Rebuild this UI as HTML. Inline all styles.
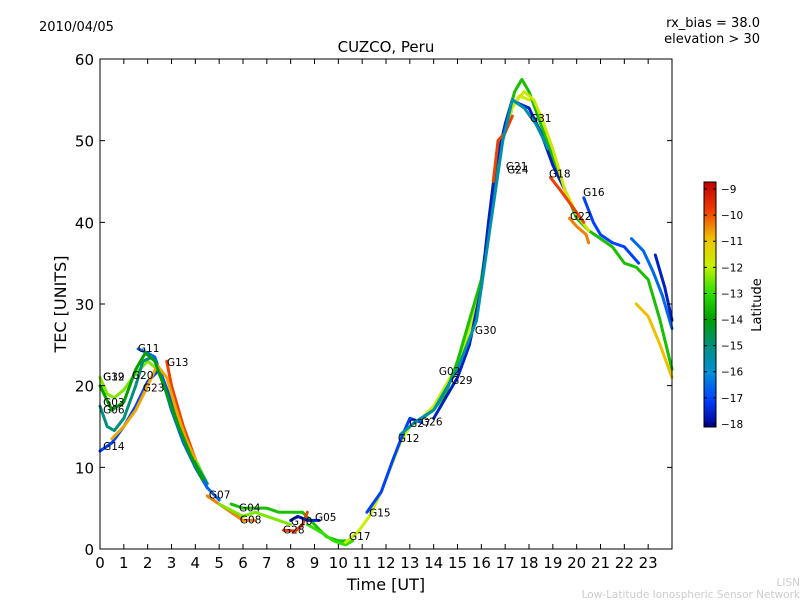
<!DOCTYPE html>
<html><head><meta charset="utf-8"><style>
body{margin:0;background:#fff;width:800px;height:600px;overflow:hidden;font-family:"Liberation Sans","DejaVu Sans",sans-serif;}
svg{display:block}
</style></head><body>
<svg id="chart" width="800" height="600" xmlns="http://www.w3.org/2000/svg" font-family="DejaVu Sans, Liberation Sans, sans-serif">
<defs>
<linearGradient id="cbg" x1="0" y1="1" x2="0" y2="0">
<stop offset="0" stop-color="#00008b"/><stop offset="0.11" stop-color="#0040ff"/>
<stop offset="0.22" stop-color="#0090d8"/><stop offset="0.33" stop-color="#009080"/>
<stop offset="0.44" stop-color="#00a000"/><stop offset="0.55" stop-color="#30e000"/>
<stop offset="0.66" stop-color="#c8f000"/><stop offset="0.77" stop-color="#f0c000"/>
<stop offset="0.88" stop-color="#f04000"/><stop offset="1" stop-color="#c00000"/>
</linearGradient>
</defs>
<text x="39" y="31" font-size="13">2010/04/05</text>
<text x="760" y="27" font-size="13" text-anchor="end">rx_bias = 38.0</text>
<text x="760" y="43" font-size="13" text-anchor="end">elevation &gt; 30</text>
<text x="386" y="52" font-size="15" text-anchor="middle">CUZCO, Peru</text>
<g id="marks"></g>
<rect x="100" y="59" width="572" height="490" fill="none" stroke="#000" stroke-width="1"/>
<g id="axes"></g>
<text transform="translate(66,304) rotate(-90)" font-size="16" text-anchor="middle">TEC [UNITS]</text>
<text x="386" y="590" font-size="16" text-anchor="middle">Time [UT]</text>
<rect x="704" y="182" width="12" height="245" fill="url(#cbg)" stroke="#000" stroke-width="1"/>
<g id="cbticks"></g>
<text transform="translate(761,305) rotate(-90)" font-size="13" text-anchor="middle">Latitude</text>
<text x="800" y="586" font-size="10.5" fill="#ccc" text-anchor="end">LISN</text>
<text x="800" y="598" font-size="10.5" fill="#ccc" text-anchor="end">Low-Latitude Ionospheric Sensor Network</text>
</svg>
<script>
const xTicks=[0,1,2,3,4,5,6,7,8,9,10,11,12,13,14,15,16,17,18,19,20,21,22,23];
const yTicks=[0,10,20,30,40,50,60];
const cbTicks=[-9,-10,-11,-12,-13,-14,-15,-16,-17,-18];
const trackNames=["G32","G06","G14","G11","G13","G07","G04","G28","G10","G05","G17","G12","G26","G30","G24","G31","G18","G16","G22","G25","G09","G01","G23","G20","G08","G02"];
const trackLats=[-12.5,-15,-17,-16.5,-10,-10.5,-13.5,-10,-17.5,-13,-12,-17,-13.5,-17.5,-10,-11.8,-10,-17,-10.5,-16.5,-17.5,-11,-10.8,-14,-12.5,-15.5];
const trackPoints=[
[[0,21],[0.3,19],[0.6,18.5],[1,19.5],[1.5,21.5],[2,23],[2.4,22],[3,18],[3.5,14],[4,11],[4.5,8]],
[[0,17.5],[0.3,15],[0.6,14.5],[1,16],[1.5,20],[1.8,23],[2.2,23.5],[2.5,22],[3,17],[3.5,13.5],[4,10.5],[4.5,8]],
[[0,12],[0.5,13],[1,15],[1.5,17.5],[2,20.5],[2.5,22],[3,18],[3.5,14],[4,10],[4.5,7.5]],
[[1.6,24.5],[2,24],[2.3,23.5],[2.6,21],[3,17],[3.5,13],[4,10],[4.5,7.5],[5,6]],
[[2.8,23],[3,20],[3.5,15],[4,11]],
[[4.5,6.5],[5,5.5],[5.5,4.5],[6,3.5],[6.5,3.5]],
[[5.5,5.5],[6,5],[7,5],[7.5,4.5],[8,4.5],[8.5,4.5],[9,3],[9.5,1.5],[10,1],[10.5,1]],
[[7.7,2.3],[8.2,2.2],[8.5,3],[8.7,4.5]],
[[8,3.5],[8.3,4],[8.7,3.5],[9.2,3.5]],
[[8.7,3],[9.3,2],[9.8,1],[10.3,0.5],[10.6,1]],
[[10.3,0.8],[10.8,2],[11.3,4],[11.8,7],[12.2,10],[12.6,13],[13,15],[13.5,16],[14,17.5],[14.5,20],[15,22.5],[15.5,27],[16,32],[16.5,45],[16.9,50],[17.3,54],[17.6,55.5],[18,55]],
[[11.2,4.5],[11.8,7],[12.3,11],[12.7,14],[13,16],[13.5,15.5]],
[[13.5,16],[14,17],[14.5,19],[15,23],[15.5,28],[16,33],[16.5,43],[17,52],[17.4,56],[17.7,57.5],[18,56],[18.5,52],[19,48],[19.5,44],[20,40.5],[20.5,39],[21,38],[21.5,37],[22,35],[22.5,34.5],[23,33],[23.5,28],[24,22]],
[[14,16],[14.5,18.5],[15,21],[15.5,25],[16,32],[16.3,40],[16.6,47],[17,52],[17.3,55],[17.6,54.5],[18,54],[18.5,51],[19,47],[19.5,44]],
[[16.5,45],[16.7,50],[17,51],[17.3,53]],
[[17.5,55],[17.8,56],[18.2,55],[18.5,53],[19,49],[19.5,44],[20,41],[20.5,39]],
[[18.9,45.5],[19.3,44],[19.8,42],[20.3,40]],
[[20.3,43],[20.7,40],[21,38.5],[21.5,37.5],[22,37],[22.3,36],[22.6,35]],
[[19.7,40.5],[20,39.5],[20.4,38.5],[20.5,37.5]],
[[22.3,38],[22.8,36.5],[23.2,34],[23.6,31],[24,27]],
[[23.3,36],[23.7,32],[24,28]],
[[22.5,30],[23,28.5],[23.5,25],[24,21]],
[[0.5,13.5],[1,15],[1.5,17],[2,20],[2.4,22.5],[2.8,21],[3.2,17],[3.6,13.5],[4,11]],
[[0,20],[0.5,17],[1,18],[1.5,22],[1.9,24],[2.3,23],[2.8,19],[3.3,15],[3.8,11.5],[4.3,8.5]],
[[5,5.5],[6,4],[6.5,4.5],[7,4],[7.5,3.5],[8,3]],
[[12.6,14],[13.2,15.5],[14,17],[15,22],[15.8,28],[16.4,40],[16.9,50],[17.3,55],[17.8,54],[18.3,52],[18.8,49]]
];
const labelNames=["G11","G32","G19","G20","G23","G13","G03","G06","G14","G07","G04","G08","G10","G28","G05","G17","G15","G12","G27","G26","G02","G29","G30","G21","G24","G31","G18","G16","G22"];
const labelT=[1.59,0.13,0.13,1.34,1.8,2.81,0.13,0.13,0.13,4.57,5.83,5.87,8.01,7.68,9.02,10.45,11.29,12.5,12.97,13.47,14.22,14.73,15.73,17.03,17.08,18.04,18.84,20.27,19.72];
const labelV=[24.6,21.1,21.1,21.3,19.8,22.9,18.0,17.1,12.6,6.7,5.1,3.6,3.4,2.4,3.9,1.6,4.5,13.6,15.4,15.6,21.8,20.7,26.8,46.9,46.5,52.8,46.0,43.7,40.8];

const NS="http://www.w3.org/2000/svg";
const X=t=>100+t*572/24, Y=v=>549-v*490/60, CB=l=>182+(-8.73-l)*26.1;
const stops=[[-18,[0,0,139]],[-17,[0,64,255]],[-16,[0,144,216]],[-15,[0,144,128]],[-14,[0,160,0]],[-13,[48,224,0]],[-12,[200,240,0]],[-11,[240,192,0]],[-10,[240,64,0]],[-9,[192,0,0]]];
function col(l){for(let i=0;i<stops.length-1;i++){const a=stops[i],b=stops[i+1];if(l<=b[0]||i==stops.length-2){let f=Math.max(0,Math.min(1,(l-a[0])/(b[0]-a[0])));return "rgb("+a[1].map((c,k)=>Math.round(c+(b[1][k]-c)*f)).join(",")+")";}}}
function mk(tag,attrs,parent){const e=document.createElementNS(NS,tag);for(const k in attrs)e.setAttribute(k,attrs[k]);parent.appendChild(e);return e;}
const marks=document.getElementById('marks'),axes=document.getElementById('axes'),cbt=document.getElementById('cbticks');
trackPoints.forEach((pts,i)=>{
 const p=mk('polyline',{points:pts.map(q=>X(q[0])+","+Y(q[1])).join(" "),fill:"none",stroke:col(trackLats[i]),"stroke-width":3,"stroke-linejoin":"round","stroke-linecap":"round"},marks);
 
 
});
labelNames.forEach((n,i)=>{
 const t=mk('text',{x:X(labelT[i]),y:Y(labelV[i])+4,"font-size":10.5},marks);t.textContent=n;
 
 
});
xTicks.forEach(v=>{
 const x=X(v);
 const l=mk('path',{d:`M${x},549v-5M${x},59v5`,stroke:"#000"},axes);
 
 
 const t=mk('text',{x:x,y:568,"font-size":15,"text-anchor":"middle"},axes);t.textContent=v;
 
 
});
yTicks.forEach(v=>{
 const y=Y(v);
 const l=mk('path',{d:`M100,${y}h5M672,${y}h-5`,stroke:"#000"},axes);
 
 
 const t=mk('text',{x:94,y:y+6,"font-size":15,"text-anchor":"end"},axes);t.textContent=v;
 
 
});
cbTicks.forEach(v=>{
 const y=CB(v);
 const l=mk('path',{d:`M704,${y}h3M716,${y}h-3`,stroke:"#000"},cbt);
 
 
 const t=mk('text',{x:721,y:y+4,"font-size":10.5},cbt);t.textContent="\u2212"+Math.abs(v);
 
 
});
</script>
</body></html>
